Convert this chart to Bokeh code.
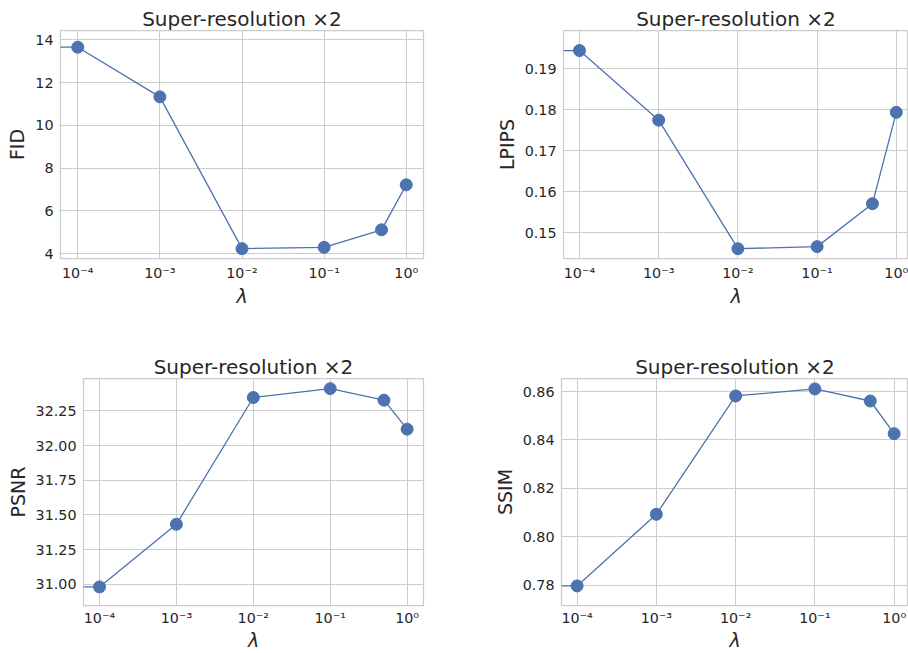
import numpy as np
from bokeh.plotting import figure
from bokeh.layouts import column, row
from bokeh.models import FixedTicker, CustomJSTickFormatter, PrintfTickFormatter, Range1d
from bokeh.embed import file_html
from bokeh.resources import INLINE

# ---- data ----
lambdas = [1e-4, 1e-3, 1e-2, 1e-1, 0.5, 1.0]
fid = [13.65, 11.33, 4.24, 4.30, 5.12, 7.22]
lpips = [0.1945, 0.1775, 0.1461, 0.1466, 0.1571, 0.1794]
psnr = [30.981, 31.432, 32.346, 32.410, 32.327, 32.118]
ssim = [0.7797, 0.8093, 0.8582, 0.8611, 0.8561, 0.8426]

x_ticks = [1e-4, 1e-3, 1e-2, 1e-1, 1.0]
fid_ticks = [4, 6, 8, 10, 12, 14]
lpips_ticks = [0.15, 0.16, 0.17, 0.18, 0.19]
psnr_ticks = [31.00, 31.25, 31.50, 31.75, 32.00, 32.25]
ssim_ticks = [0.78, 0.80, 0.82, 0.84, 0.86]
lambda_zero = 1e-9  # lambda = 0 run, clipped far left on the log axis

title_text = "Super-resolution ×2"
BLUE = "#4c72b0"
TXT = "#262626"
GRID = "#cccccc"
FONT = "DejaVu Sans"

xfmt = CustomJSTickFormatter(code="""
const sup = {'-':'\u207b','0':'\u2070','1':'\u00b9','2':'\u00b2','3':'\u00b3','4':'\u2074','5':'\u2075','6':'\u2076','7':'\u2077','8':'\u2078','9':'\u2079'};
const e = Math.round(Math.log10(tick));
return '10' + String(e).split('').map(c => sup[c]).join('');
""")


def make(ylabel, yvals, yticks, yfmt, xr, yr, ml, fw, mr, mt, fh, mb, xls=6, xas=1):
    p = figure(x_axis_type="log", output_backend="svg", toolbar_location=None,
               frame_width=fw, frame_height=fh,
               min_border_left=ml, min_border_right=mr,
               min_border_top=mt, min_border_bottom=mb,
               x_range=Range1d(10 ** xr[0], 10 ** xr[1]),
               y_range=Range1d(yr[0], yr[1]),
               background_fill_color="white", border_fill_color="white")
    p.title.text = title_text
    p.title.text_font = FONT
    p.title.text_font_size = "20px"
    p.title.text_font_style = "normal"
    p.title.text_color = TXT
    p.title.align = "center"
    p.title.standoff = 0
    p.title.offset = 0

    p.outline_line_color = GRID
    p.outline_line_width = 1.25

    for ax in (p.xaxis[0], p.yaxis[0]):
        ax.axis_line_color = None
        ax.major_tick_line_color = None
        ax.minor_tick_line_color = None
        ax.major_label_text_font = FONT
        ax.major_label_text_font_size = "14.3px"
        ax.major_label_text_color = TXT
        ax.axis_label_text_font = FONT
        ax.axis_label_text_font_size = "19px"
        ax.axis_label_text_color = TXT
        ax.axis_label_text_font_style = "normal"
        ax.major_tick_out = 0
        ax.major_tick_in = 0
        ax.minor_tick_out = 0
        ax.minor_tick_in = 0

    p.xaxis.ticker = FixedTicker(ticks=x_ticks, minor_ticks=[])
    p.xaxis.formatter = xfmt
    p.xaxis.axis_label = "λ"
    p.xaxis.axis_label_text_font_style = "italic"
    p.xaxis.major_label_standoff = xls
    p.xaxis.axis_label_standoff = xas

    p.yaxis.ticker = FixedTicker(ticks=yticks, minor_ticks=[])
    p.yaxis.formatter = PrintfTickFormatter(format=yfmt)
    p.yaxis.axis_label = ylabel
    p.yaxis.major_label_standoff = 7
    p.yaxis.axis_label_standoff = 4

    p.xgrid.ticker = FixedTicker(ticks=x_ticks, minor_ticks=[])
    p.ygrid.ticker = FixedTicker(ticks=yticks, minor_ticks=[])
    for g in (p.xgrid[0], p.ygrid[0]):
        g.grid_line_color = GRID
        g.grid_line_width = 1

    xs = [lambda_zero] + lambdas
    ys = [yvals[0]] + yvals
    p.line(xs, ys, line_color=BLUE, line_width=1.3)
    p.scatter(lambdas, yvals, size=12, fill_color=BLUE, line_color=BLUE)
    return p


p1 = make("FID", fid, fid_ticks, "%.0f", (-4.21, 0.21), (3.78, 14.43),
          60, 363, 31, 30, 228, 74)
p2 = make("LPIPS", lpips, lpips_ticks, "%.2f", (-4.202, 0.154), (0.1437, 0.1994),
          109, 345, 0, 30, 228, 74)
p3 = make("PSNR", psnr, psnr_ticks, "%.2f", (-4.208, 0.213), (30.847, 32.483),
          83, 340, 31, 46, 227, 48, 4, 0)
p4 = make("SSIM", ssim, ssim_ticks, "%.2f", (-4.197, 0.181), (0.7716, 0.8654),
          107, 347, 0, 46, 227, 48, 4, 0)

layout = column(row(p1, p2, spacing=0), row(p3, p4, spacing=0), spacing=0)

open("out.html", "w").write(file_html(layout, INLINE))
